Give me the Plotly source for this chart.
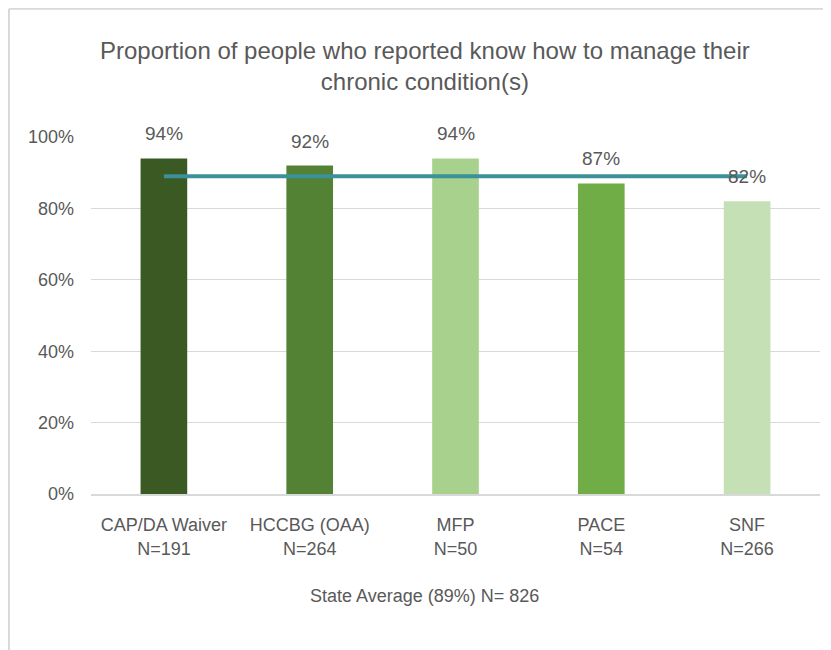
import plotly.graph_objects as go

programs = ["CAP/DA Waiver", "HCCBG (OAA)", "MFP", "PACE", "SNF"]
sample_sizes = [191, 264, 50, 54, 266]
pct_know = [0.94, 0.92, 0.94, 0.87, 0.82]
state_avg = 0.89
state_n = 826
bar_colors = ["#3B5A23", "#548235", "#A9D18E", "#70AD47", "#C5E0B4"]

labels = [f"{p}<br>N={n}" for p, n in zip(programs, sample_sizes)]
txt = "#595959"
font = "Liberation Sans, Arial, sans-serif"

fig = go.Figure()
fig.add_trace(go.Bar(x=labels, y=pct_know, marker=dict(color=bar_colors, line=dict(width=0)),
                     width=0.32, hoverinfo="skip"))
fig.add_trace(go.Scatter(x=labels, y=[state_avg] * len(labels), mode="lines",
                         line=dict(color="#3A9199", width=4), hoverinfo="skip"))

annotations = [dict(x=lab, y=v, text=f"{v:.0%}", showarrow=False, yanchor="bottom", yshift=12,
                    font=dict(size=19, color=txt, family=font))
               for lab, v in zip(labels, pct_know)]
annotations.append(dict(text="Proportion of people who reported know how to manage their<br>chronic condition(s)",
                        xref="paper", yref="paper", x=0.458, y=1.2, xanchor="center", yanchor="middle",
                        showarrow=False, font=dict(size=24, color=txt, family=font)))
annotations.append(dict(text=f"State Average ({state_avg:.0%}) N= {state_n}",
                        xref="paper", yref="paper", x=0.458, y=-0.286, xanchor="center", yanchor="middle",
                        showarrow=False, font=dict(size=18, color=txt, family=font)))

fig.update_layout(
    width=831, height=650,
    margin=dict(l=83, r=19, t=129, b=164),
    paper_bgcolor="white", plot_bgcolor="white",
    showlegend=False,
    font=dict(family=font, size=18, color=txt),
    annotations=annotations,
    shapes=[
        dict(type="line", xref="paper", yref="paper", x0=-0.1125, x1=1.1, y0=1.359, y1=1.359,
             line=dict(color="#D9D9D9", width=2)),
        dict(type="line", xref="paper", yref="paper", x0=-0.1125, x1=-0.1125, y0=1.359, y1=-0.5,
             line=dict(color="#D9D9D9", width=2)),
    ],
)
fig.update_xaxes(showgrid=False, showline=True, linecolor="#D9D9D9", linewidth=1.5,
                 ticks="", ticklabelstandoff=14, tickfont=dict(size=18, color=txt))
fig.update_yaxes(range=[0, 1], tickvals=[0, 0.2, 0.4, 0.6, 0.8, 1.0], tickformat=".0%",
                 showgrid=True, gridcolor="#D9D9D9", gridwidth=1, zeroline=False,
                 ticks="", ticklabelstandoff=16, tickfont=dict(size=18, color=txt))

fig.write_html("out.html")
